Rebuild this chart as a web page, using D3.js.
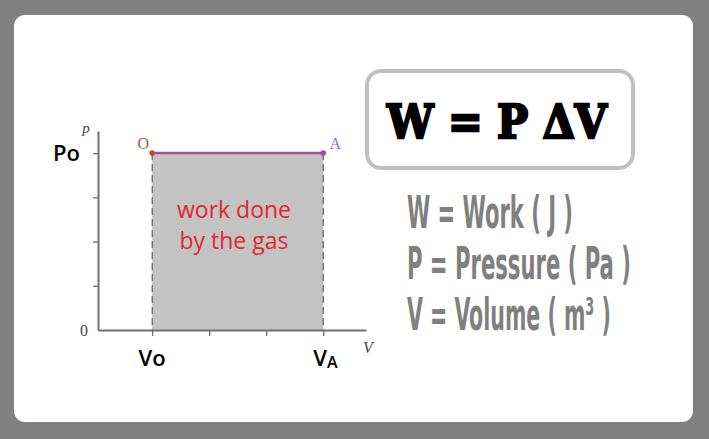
<!DOCTYPE html>
<html><head><meta charset="utf-8">
<script src="https://cdn.jsdelivr.net/npm/d3@7"></script>
<style>html,body{margin:0;padding:0;background:#808080;}svg{display:block;}</style>
</head><body>
<svg id="c" width="709" height="439"></svg>
<script>
// data
const volumeTicks = [1, 2, 3, 4];
const pressureTicks = [1, 2, 3, 4];
const volumeLabels = ["Vo", "VA"];
const pathPoints = [
  {name: "O", v: 1, p: 4},
  {name: "A", v: 4, p: 4}
];
const pressureLabel = "Po";
const areaText = ["work done", "by the gas"];
const formula = "W = P ΔV";
const legendLines = ["W = Work ( J )", "P = Pressure ( Pa )", "V = Volume ( m³ )"];

const svg = d3.select("#c");
svg.append("rect").attr("x", 14).attr("y", 15).attr("width", 679).attr("height", 407)
  .attr("rx", 11).attr("fill", "#fff");

const x = d3.scaleLinear().domain([0.05, 4.75]).range([98, 366]);
const y = d3.scaleLinear().domain([0, 4.5]).range([330, 131]);

const g = svg.append("g");
// shaded area
g.append("rect").attr("x", x(pathPoints[0].v)).attr("y", y(pathPoints[0].p))
  .attr("width", x(pathPoints[1].v) - x(pathPoints[0].v))
  .attr("height", y(0) - y(pathPoints[0].p)).attr("fill", "#c3c3c3");
// dashed verticals
pathPoints.forEach(d => {
  g.append("line").attr("x1", x(d.v)).attr("x2", x(d.v)).attr("y1", y(d.p)).attr("y2", y(0))
    .attr("stroke", "#444").attr("stroke-width", 1).attr("stroke-dasharray", "7,4");
});
// axes
const xAxis = g.append("g").attr("transform", `translate(0,${y(0)})`)
  .call(d3.axisBottom(x).tickValues(volumeTicks).tickSize(6).tickFormat("").tickSizeOuter(0));
const yAxis = g.append("g").attr("transform", `translate(${x(0.05)},0)`)
  .call(d3.axisLeft(y).tickValues(pressureTicks).tickSize(5).tickFormat("").tickSizeOuter(0));
[xAxis, yAxis].forEach(a => {
  a.selectAll("path").attr("stroke", "#707070").attr("stroke-width", 2);
  a.selectAll("line").attr("stroke", "#707070").attr("stroke-width", 1.3);
});
// process line
g.append("line").attr("x1", x(pathPoints[0].v)).attr("x2", x(pathPoints[1].v))
  .attr("y1", y(pathPoints[0].p)).attr("y2", y(pathPoints[1].p))
  .attr("stroke", "#a64ca6").attr("stroke-width", 2.5);
const ptColors = ["#b5502a", "#a64ca6"];
g.selectAll("circle.pt").data(pathPoints).join("circle").attr("class", "pt")
  .attr("cx", d => x(d.v)).attr("cy", d => y(d.p)).attr("r", 2.8)
  .attr("fill", (d, i) => ptColors[i]);
g.selectAll("text.pt").data(pathPoints).join("text").attr("class", "pt")
  .attr("x", (d, i) => x(d.v) + (i ? 12 : -9)).attr("y", d => y(d.p) - 4)
  .attr("text-anchor", "middle").attr("font-family", "Liberation Serif").attr("font-size", 16)
  .attr("fill", (d, i) => i ? "#b060c0" : "#a0603a").text(d => d.name);
// axis letters
g.append("text").attr("x", 86).attr("y", 133).attr("font-family", "Liberation Serif")
  .attr("font-style", "italic").attr("font-size", 15).attr("fill", "#444").attr("text-anchor", "middle").text("p");
g.append("text").attr("x", 84).attr("y", 336).attr("font-family", "Liberation Serif")
  .attr("font-size", 16).attr("fill", "#444").attr("text-anchor", "middle").text("0");
g.append("text").attr("x", 368).attr("y", 353).attr("font-family", "Liberation Serif")
  .attr("font-style", "italic").attr("font-size", 16).attr("fill", "#444").attr("text-anchor", "middle").text("V");
// Po
g.append("text").attr("x", 53).attr("y", y(4) + 8).attr("font-family", "Open Sans")
  .attr("font-size", 22).attr("font-weight", 600).attr("fill", "#000").text(pressureLabel);
// Vo, VA
g.append("text").attr("x", x(1)).attr("y", 366).attr("text-anchor", "middle").attr("font-family", "Open Sans")
  .attr("font-size", 22).attr("font-weight", 600).attr("fill", "#000").text(volumeLabels[0]);
const va = g.append("text").attr("x", x(4) - 10).attr("y", 366).attr("font-family", "Open Sans")
  .attr("font-size", 22).attr("font-weight", 600).attr("fill", "#000");
va.append("tspan").text("V");
va.append("tspan").attr("font-size", 16).attr("dy", 2).text("A");
// area text
g.selectAll("text.area").data(areaText).join("text").attr("class", "area")
  .attr("x", 234).attr("y", (d, i) => 218 + i * 31).attr("text-anchor", "middle")
  .attr("font-family", "Open Sans").attr("font-size", 23).attr("fill", "#e3262b").text(d => d);

// formula box
svg.append("rect").attr("x", 367).attr("y", 71).attr("width", 266).attr("height", 97)
  .attr("rx", 14).attr("fill", "#fff").attr("stroke", "#c0c0c0").attr("stroke-width", 4);

function fitText(sel, targetW) {
  const w = sel.node().getComputedTextLength();
  const x0 = +sel.attr("x"), y0 = +sel.attr("y");
  sel.attr("x", 0).attr("y", 0)
    .attr("transform", `translate(${x0},${y0}) scale(${targetW / w},1)`);
}
const ft = svg.append("text").attr("x", 387).attr("y", 138).attr("font-family", "DejaVu Serif")
  .attr("font-weight", "bold").attr("font-size", 47).attr("fill", "#000")
  .attr("stroke", "#000").attr("stroke-width", 2.5).text(formula);
fitText(ft, 220);

const legendW = [166, 224, 204];
legendLines.forEach((t, i) => {
  const s = svg.append("text").attr("x", 407).attr("y", 228 + i * 51)
    .attr("font-family", "DejaVu Sans Condensed").attr("font-weight", "bold").attr("font-size", 45)
    .attr("fill", "#808080").text(t);
  fitText(s, legendW[i]);
});
</script>
</body></html>
